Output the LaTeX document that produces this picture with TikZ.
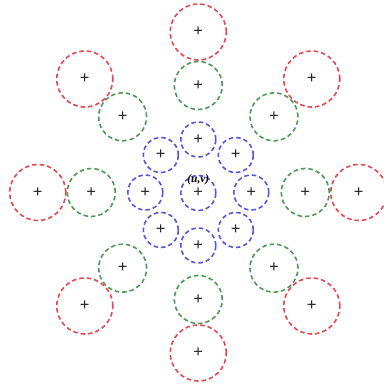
\documentclass[tikz,border=0pt]{standalone}
\usepackage{fontspec}
\setmainfont{Liberation Serif}
\definecolor{ringred}{HTML}{E5484F}
\definecolor{ringgreen}{HTML}{4E9A55}
\definecolor{ringblue}{HTML}{5A55D8}
\begin{document}
\begin{tikzpicture}[x=1pt,y=1pt,
  ring/.style={circle,draw,dash pattern=on 4.5pt off 3pt,line width=1.6pt,inner sep=0pt,
    font=\fontsize{17}{17}\selectfont\bfseries,text=black!85},
  bluec/.style={ring,draw=ringblue,minimum size=35pt},
  greenc/.style={ring,draw=ringgreen,minimum size=48pt},
  redc/.style={ring,draw=ringred,minimum size=56pt},
  lbl/.style={font=\fontsize{11.5}{11.5}\selectfont\bfseries\itshape,inner sep=0pt}]
\useasboundingbox[fill=white] (-198.3,-195.5) rectangle (184.7,192.5);
\node[bluec] (b0) at (0,-0.5) {+};
\foreach \i in {1,...,8}{
  \pgfmathsetmacro{\a}{90-45*(\i-1)}
  \node[bluec] (b\i) at (\a:53) {+};
  \node[greenc] (g\i) at (\a:107) {+};
  \node[redc] (r\i) at (\a:160.5) {+};
}
\node[lbl] (uv) at (0,13) {(u,v)};
\end{tikzpicture}
\end{document}
